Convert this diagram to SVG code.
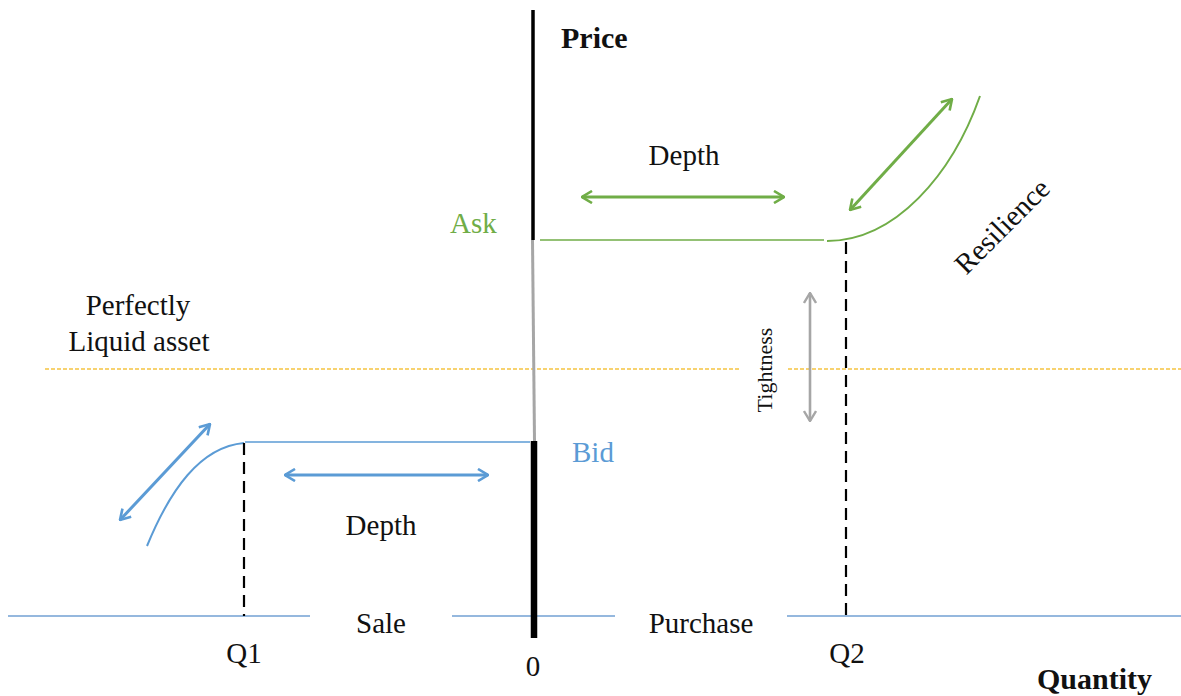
<svg xmlns="http://www.w3.org/2000/svg" width="1181" height="696" viewBox="0 0 1181 696">
  <style>
    text { font-family: "Liberation Serif", "DejaVu Serif", serif; fill: #111; }
    .lbl { font-size: 29px; }
    .bold { font-weight: bold; font-size: 30px; }
    .green { stroke: #70ad47; fill: none; }
    .blue { stroke: #5b9bd5; fill: none; }
    .axis { stroke: #95b8de; stroke-width: 2; fill: none; }
    .dash { stroke: #000; stroke-width: 2.2; stroke-dasharray: 12 7; fill: none; }
    .liquid { stroke: #f5c342; stroke-width: 1.5; stroke-dasharray: 4 2; fill: none; }
  </style>
  <defs>
    <marker id="hg" viewBox="0 0 12 14" refX="11" refY="7" markerWidth="12" markerHeight="14" markerUnits="userSpaceOnUse" orient="auto-start-reverse">
      <path d="M1,1 L11,7 L1,13" fill="none" stroke="#70ad47" stroke-width="2.6"/>
    </marker>
    <marker id="hb" viewBox="0 0 12 14" refX="11" refY="7" markerWidth="12" markerHeight="14" markerUnits="userSpaceOnUse" orient="auto-start-reverse">
      <path d="M1,1 L11,7 L1,13" fill="none" stroke="#5b9bd5" stroke-width="2.6"/>
    </marker>
    <marker id="hgr" viewBox="0 0 12 14" refX="11" refY="7" markerWidth="12" markerHeight="14" markerUnits="userSpaceOnUse" orient="auto-start-reverse">
      <path d="M1,1 L11,7 L1,13" fill="none" stroke="#a6a6a6" stroke-width="2.4"/>
    </marker>
  </defs>
  <rect width="1181" height="696" fill="#fff"/>

  <!-- quantity axis, broken around the Sale / Purchase labels -->
  <g id="quantity-axis">
    <line class="axis" x1="8" y1="616" x2="310" y2="616"/>
    <line class="axis" x1="452" y1="616" x2="615" y2="616"/>
    <line class="axis" x1="787" y1="616" x2="1181" y2="616"/>
  </g>

  <!-- perfectly liquid asset level -->
  <g id="liquid-level">
    <line class="liquid" x1="45" y1="369" x2="740" y2="369"/>
    <line class="liquid" x1="788" y1="369" x2="1181" y2="369"/>
  </g>

  <!-- price axis: ask side, spread, bid side -->
  <g id="price-axis">
    <line x1="533" y1="10" x2="533" y2="240" stroke="#000" stroke-width="3.5"/>
    <line x1="532.5" y1="240" x2="534.5" y2="441" stroke="#a6a6a6" stroke-width="3"/>
    <line x1="534" y1="441" x2="534" y2="638" stroke="#000" stroke-width="6.5"/>
  </g>

  <g id="connectors">
    <!-- ask level and supply curve -->
    <line class="green" x1="540" y1="240" x2="824" y2="240" stroke-width="1.3"/>
    <path class="green" stroke-width="2" d="M827,241 C895,241 952,175 980,96"/>
    <line class="green" x1="582" y1="197" x2="784" y2="197" stroke-width="3" marker-start="url(#hg)" marker-end="url(#hg)"/>
    <line class="green" x1="850" y1="210" x2="952" y2="99" stroke-width="3" marker-start="url(#hg)" marker-end="url(#hg)"/>

    <!-- bid level and demand curve -->
    <line class="blue" x1="245" y1="442" x2="530" y2="442" stroke-width="1.5"/>
    <path class="blue" stroke-width="2" d="M244,443 C200,447 170,490 147,546"/>
    <line class="blue" x1="285" y1="475" x2="488" y2="475" stroke-width="3" marker-start="url(#hb)" marker-end="url(#hb)"/>
    <line class="blue" x1="120" y1="520" x2="210" y2="424" stroke-width="3" marker-start="url(#hb)" marker-end="url(#hb)"/>

    <!-- tightness -->
    <line x1="810" y1="293" x2="810" y2="421" stroke="#a6a6a6" stroke-width="2.6" marker-start="url(#hgr)" marker-end="url(#hgr)"/>

    <!-- quantity markers -->
    <line class="dash" x1="244" y1="443" x2="244" y2="616"/>
    <line class="dash" x1="846" y1="242" x2="846" y2="616"/>
  </g>

  <g id="labels">
    <text id="price" class="bold" x="561" y="48">Price</text>
    <text id="quantity" class="bold" x="1037" y="689">Quantity</text>
    <text id="ask" class="lbl" x="450" y="233" style="fill:#70ad47">Ask</text>
    <text id="bid" class="lbl" x="572" y="462" style="fill:#5b9bd5">Bid</text>
    <text id="depth-ask" class="lbl" x="684" y="165" text-anchor="middle">Depth</text>
    <text id="depth-bid" class="lbl" x="381" y="535" text-anchor="middle">Depth</text>
    <text id="resilience" class="lbl" x="0" y="0" text-anchor="middle" transform="translate(1009,233) rotate(-45)">Resilience</text>
    <text id="tightness" x="0" y="0" text-anchor="middle" font-size="22" transform="translate(772,370) rotate(-90)">Tightness</text>
    <text id="perfectly" class="lbl" x="138" y="315" text-anchor="middle">Perfectly</text>
    <text id="liquid" class="lbl" x="139" y="351" text-anchor="middle">Liquid asset</text>
    <text id="sale" class="lbl" x="381" y="633" text-anchor="middle">Sale</text>
    <text id="purchase" class="lbl" x="701" y="633" text-anchor="middle">Purchase</text>
    <text id="q1" class="lbl" x="244" y="663" text-anchor="middle">Q1</text>
    <text id="zero" class="lbl" x="533" y="676" text-anchor="middle">0</text>
    <text id="q2" class="lbl" x="847" y="663" text-anchor="middle">Q2</text>
  </g>
</svg>
